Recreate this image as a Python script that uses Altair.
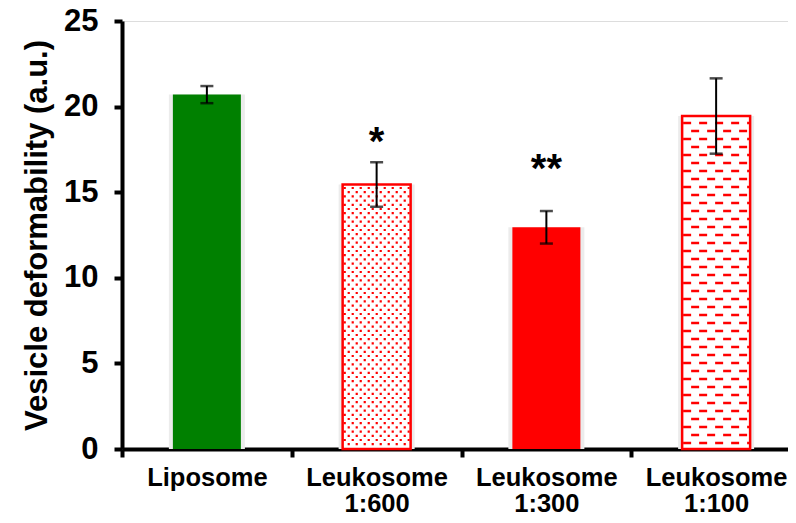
import altair as alt
import pandas as pd

# ---- data ----
categories = ["Liposome", "Leukosome 1:600", "Leukosome 1:300", "Leukosome 1:100"]
means = [20.7, 15.45, 12.95, 19.45]
errors = [0.5, 1.3, 0.95, 2.2]
fills = ["#008000", "#ffffff", "#ff0000", "#ffffff"]
patterns = ["solid", "dots", "solid", "dashes"]
star_text = ["", "*", "**", ""]
star_pos = [None, 17.2, 15.6, None]

FONT = "Liberation Sans"
PX_PER_UNIT = 428 / 25.0

df = pd.DataFrame({
    "cat": categories,
    "mean": means,
    "lo": [m - e for m, e in zip(means, errors)],
    "hi": [m + e for m, e in zip(means, errors)],
    "fill": fills,
    "pattern": patterns,
})
patterned = df[df["pattern"] != "solid"]

stars = pd.DataFrame({"cat": categories, "txt": star_text, "y": star_pos}).dropna()

# texture rows (fill pattern inside the hatched bars), derived from the bar heights
def rows(pattern, first_px, step_px):
    out = []
    for c, m, p in zip(categories, means, patterns):
        if p != pattern:
            continue
        k = 0
        y = m - first_px / PX_PER_UNIT
        while y > 0.1:
            out.append({"cat": c, "y": y, "odd": k % 2})
            k += 1
            y -= step_px / PX_PER_UNIT
    return pd.DataFrame(out)

dot_rows = rows("dots", 3.5, 4.2)
dash_rows = rows("dashes", 7.0, 8.0)

x_scale = alt.Scale(domain=categories, range=[0, 679], paddingInner=0, paddingOuter=0)
y_scale = alt.Scale(domain=[0, 25], nice=False)

X = alt.X("cat:N", scale=x_scale, sort=categories, axis=alt.Axis(
    title=None, labelAngle=0,
    labelExpr="isString(datum.value) ? split(datum.value, ' ') : ''",
    labelFont=FONT, labelFontSize=25.5, labelFontWeight="bold", labelColor="black",
    labelPadding=8, labelLineHeight=26, labelBaseline="top", labelOverlap=False,
    labelFlush=False, tickBand="extent", tickSize=8, tickWidth=4, tickColor="black",
    domainWidth=4, domainColor="black", grid=False))
Y = alt.Y("mean:Q", scale=y_scale, axis=alt.Axis(
    title="Vesicle deformability (a.u.)", values=[0, 5, 10, 15, 20, 25],
    labelFont=FONT, labelFontSize=31, labelFontWeight="bold", labelColor="black",
    labelPadding=16, tickSize=8, tickWidth=4, tickColor="black",
    domainWidth=4, domainColor="black", grid=False,
    titleFont=FONT, titleFontSize=31, titleFontWeight="bold", titleColor="black",
    titlePadding=10))

base = alt.Chart(df)

shadow = base.mark_bar(width=76, color="#ececec").encode(x=X, y=Y)
bars = base.mark_bar(width=68).encode(x=X, y=Y, fill=alt.Fill("fill:N", scale=None))

def tex_layer(data, odd, dash, offset, width):
    return alt.Chart(data).transform_filter(alt.datum.odd == odd).mark_rule(
        color="#ff0000", strokeWidth=width, strokeDash=dash, strokeDashOffset=offset,
        strokeCap="butt", xOffset=-33, x2Offset=33
    ).encode(x=alt.X("cat:N", scale=x_scale, sort=categories), x2="cat:N",
             y=alt.Y("y:Q", scale=y_scale))

dots_even = tex_layer(dot_rows, 0, [2.2, 5.8], 0, 2.2)
dots_odd = tex_layer(dot_rows, 1, [2.2, 5.8], 4, 2.2)
dash_even = tex_layer(dash_rows, 0, [8, 8], 0, 2.5)
dash_odd = tex_layer(dash_rows, 1, [8, 8], 8, 2.5)

border = alt.Chart(patterned).mark_bar(width=68, fillOpacity=0, stroke="#ff0000",
                                       strokeWidth=2.5).encode(x=X, y=Y)

err_line = base.mark_rule(color="black", strokeWidth=2).encode(
    x=X, y=alt.Y("lo:Q", scale=y_scale), y2="hi:Q")
cap_lo = base.mark_tick(color="black", size=13, thickness=2.5).encode(
    x=X, y=alt.Y("lo:Q", scale=y_scale))
cap_hi = base.mark_tick(color="black", size=13, thickness=2.5).encode(
    x=X, y=alt.Y("hi:Q", scale=y_scale))

star_layer = alt.Chart(stars).mark_text(font=FONT, fontSize=40, fontWeight="bold",
                                        color="black", baseline="alphabetic").encode(
    x=alt.X("cat:N", scale=x_scale, sort=categories), y=alt.Y("y:Q", scale=y_scale),
    text="txt:N")

chart = alt.layer(shadow, bars, dots_even, dots_odd, dash_even, dash_odd, border,
                  err_line, cap_lo, cap_hi, star_layer).properties(
    width=666, height=428,
    autosize=alt.AutoSizeParams(type="none"),
    padding={"left": 114, "top": 13, "right": 0, "bottom": 66},
).configure_view(stroke=None).configure(background="white")

chart.save("out.html", embed_options={"renderer": "svg", "actions": False})
